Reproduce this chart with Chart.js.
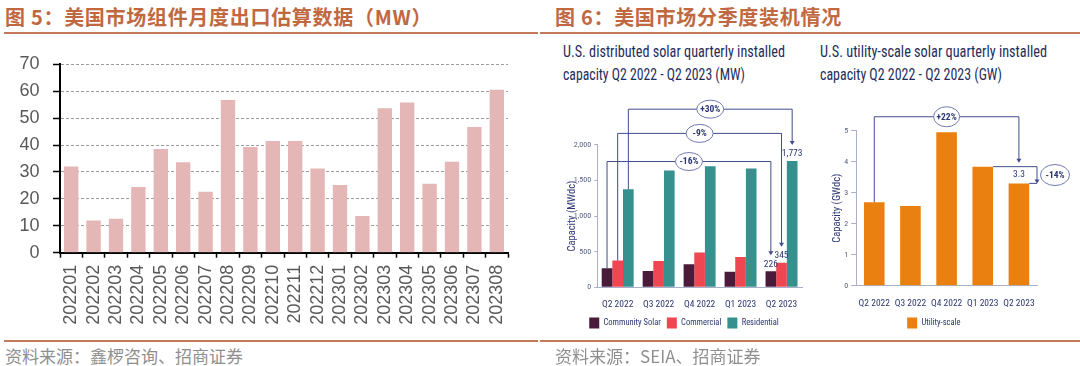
<!DOCTYPE html>
<html>
<head>
<meta charset="utf-8">
<script src="https://cdn.jsdelivr.net/npm/chart.js@4.4.0/dist/chart.umd.min.js"></script>
<style>
  body { margin: 0; background: #fff; }
  #page { position: relative; width: 1080px; height: 366px; overflow: hidden; font-family: "Noto Sans CJK SC", sans-serif; }
  .title { position: absolute; top: 6px; font-size: 20px; line-height: 22px; color: #c0683f; letter-spacing: 0.7px; font-weight: bold; white-space: nowrap; }
  .rule { position: absolute; height: 2px; background: #c47a58; }
  .source { position: absolute; top: 345px; font-size: 17px; line-height: 22px; color: #8f8f8f; white-space: nowrap; }
  .sub { position: absolute; top: 40px; font-family: "Roboto Condensed", "DejaVu Sans Condensed", sans-serif; font-size: 16px; line-height: 23px; color: #1f2d5c; white-space: nowrap; }
  .sub span { display: inline-block; transform-origin: 0 50%; }
  canvas { position: absolute; }
</style>
</head>
<body>
<div id="page">
  <div class="title" style="left:5px">图 5：美国市场组件月度出口估算数据（MW）</div>
  <div class="title" style="left:555px">图 6：美国市场分季度装机情况</div>
  <div class="rule" style="left:4px;width:534px;top:32px"></div>
  <div class="rule" style="left:540px;width:540px;top:32px"></div>

  <div class="sub" style="left:563px"><span data-w="222">U.S. distributed solar quarterly installed</span><br><span data-w="182">capacity Q2 2022 - Q2 2023 (MW)</span></div>
  <div class="sub" style="left:820px"><span data-w="227">U.S. utility-scale solar quarterly installed</span><br><span data-w="182">capacity Q2 2022 - Q2 2023 (GW)</span></div>

  <canvas id="exportChart" width="540" height="295" style="left:0;top:40px"></canvas>
  <canvas id="distChart" width="275" height="255" style="left:545px;top:95px"></canvas>
  <canvas id="utilChart" width="260" height="255" style="left:820px;top:95px"></canvas>

  <div class="rule" style="left:4px;width:534px;top:340px"></div>
  <div class="rule" style="left:540px;width:540px;top:340px"></div>
  <div class="source" style="left:5px">资料来源：鑫椤咨询、招商证券</div>
  <div class="source" style="left:555px">资料来源：SEIA、招商证券</div>
</div>

<script>
// 图5 monthly module exports (MW)
const months = ["202201", "202202", "202203", "202204", "202205", "202206", "202207", "202208", "202209", "202210",
  "202211", "202212", "202301", "202302", "202303", "202304", "202305", "202306", "202307", "202308"];
const exportMW = [32, 12, 12.6, 24.4, 38.5, 33.6, 22.6, 56.7, 39.3, 41.5,
  41.5, 31.3, 25.2, 13.6, 53.7, 55.8, 25.6, 33.8, 46.7, 60.5];

// 图6 quarterly installs
const quarters = ["Q2 2022", "Q3 2022", "Q4 2022", "Q1 2023", "Q2 2023"];
const communitySolar = [268, 230, 324, 220, 226];
const commercial = [375, 370, 487, 427, 345];
const residential = [1375, 1640, 1699, 1666, 1773];
const utilityGW = [2.69, 2.57, 4.95, 3.84, 3.3];

// change badges (outer bracket first)
const distChangeLabels = ["+30%", "-9%", "-16%"];
const utilChangeLabels = ["+22%", "-14%"];

const COND = '"Roboto Condensed", "DejaVu Sans Condensed", sans-serif';
const NAVY = "#2b3672";
const AXIS_BLUE = "#aab0cc";
const NOTE_LINE = "#404c8c";

// squeeze the subtitle lines to the width of the source's narrow face
document.querySelectorAll(".sub span").forEach(el => {
  const w = el.getBoundingClientRect().width;
  el.style.transform = "scaleX(" + (Number(el.dataset.w) / w) + ")";
});

Chart.defaults.animation = false;
Chart.defaults.responsive = false;
Chart.defaults.plugins.tooltip.enabled = false;

function arrowDown(ctx, x, y) {
  ctx.beginPath();
  ctx.moveTo(x - 2.5, y - 4);
  ctx.lineTo(x + 2.5, y - 4);
  ctx.lineTo(x, y);
  ctx.closePath();
  ctx.fillStyle = NOTE_LINE;
  ctx.fill();
}

function badge(ctx, x, y, text, rx, ry) {
  ctx.beginPath();
  ctx.ellipse(x, y, rx, ry, 0, 0, Math.PI * 2);
  ctx.fillStyle = "#fff";
  ctx.fill();
  ctx.lineWidth = 1;
  ctx.strokeStyle = "#6f7ab0";
  ctx.stroke();
  ctx.fillStyle = NAVY;
  ctx.font = "bold 9.5px " + COND;
  ctx.textAlign = "center";
  ctx.textBaseline = "middle";
  ctx.fillText(text, x, y + 0.5);
}

// ---------- left: monthly exports ----------
new Chart(document.getElementById("exportChart"), {
  type: "bar",
  data: {
    labels: months,
    datasets: [{
      data: exportMW,
      backgroundColor: "#e4b6b6",
      barPercentage: 0.64,
      categoryPercentage: 1
    }]
  },
  options: {
    layout: { padding: { left: 0, right: 32, top: 16.7, bottom: 0 } },
    plugins: { legend: { display: false } },
    scales: {
      x: {
        grid: { offset: true, drawOnChartArea: false, tickLength: 5, tickColor: "#000", tickWidth: 1.5 },
        border: { color: "#000", width: 2 },
        ticks: {
          autoSkip: false, maxRotation: 90, minRotation: 90, padding: 7,
          color: "#595959", font: { family: "Liberation Sans, Arial, sans-serif", size: 18 }
        },
        afterFit: s => { s.height = 82.3; }
      },
      y: {
        min: 0, max: 70,
        grid: { color: "#9c9c9c", tickLength: 7, tickColor: "#000", tickWidth: 1.5, tickBorderDash: [] },
        border: { color: "#000", width: 2, dash: [3, 2] },
        ticks: {
          stepSize: 10, padding: 13.5,
          color: "#595959", font: { family: "Liberation Sans, Arial, sans-serif", size: 18 }
        },
        afterFit: s => { s.width = 60; }
      }
    }
  }
});

// ---------- right 1: distributed solar ----------
const distNotes = {
  id: "distNotes",
  afterDatasetsDraw(chart) {
    const ctx = chart.ctx;
    const y = chart.scales.y;
    const last = quarters.length - 1;
    const order = [2, 1, 0];              // residential, commercial, community
    const levels = [2500, 2160, 1765];    // bracket heights in MW
    const badges = [];
    ctx.save();
    order.forEach((ds, i) => {
      const bars = chart.getDatasetMeta(ds).data;
      const a = bars[0], b = bars[last];
      const ly = y.getPixelForValue(levels[i]);
      ctx.strokeStyle = NOTE_LINE;
      ctx.lineWidth = 1;
      ctx.beginPath();
      ctx.moveTo(a.x, a.y);
      ctx.lineTo(a.x, ly);
      ctx.lineTo(b.x, ly);
      ctx.lineTo(b.x, b.y - 19);
      ctx.stroke();
      arrowDown(ctx, b.x, b.y - 16);
      ctx.fillStyle = NAVY;
      ctx.font = "9.5px " + COND;
      ctx.textAlign = "center";
      ctx.textBaseline = "middle";
      ctx.fillText(chart.data.datasets[ds].data[last].toLocaleString("en-US"), b.x, b.y - 7);
      badges.push([(a.x + b.x) / 2, ly, distChangeLabels[i]]);
    });
    badges.forEach(p => badge(ctx, p[0], p[1], p[2], 13.5, 9));
    ctx.restore();
  }
};

new Chart(document.getElementById("distChart"), {
  type: "bar",
  data: {
    labels: quarters,
    datasets: [
      { label: "Community Solar", data: communitySolar, backgroundColor: "#4a1a3a" },
      { label: "Commercial", data: commercial, backgroundColor: "#ee4752" },
      { label: "Residential", data: residential, backgroundColor: "#35908e" }
    ]
  },
  options: {
    datasets: { bar: { categoryPercentage: 0.78, barPercentage: 1 } },
    layout: { padding: { left: 21, right: 18, top: 49.8, bottom: 11.5 } },
    plugins: {
      legend: {
        position: "bottom",
        labels: { boxWidth: 10, boxHeight: 11, padding: 6, color: NAVY, font: { family: COND, size: 8.5 } }
      }
    },
    scales: {
      x: {
        grid: { display: false },
        border: { color: AXIS_BLUE, width: 1 },
        ticks: { autoSkip: false, maxRotation: 0, padding: 4, color: NAVY, font: { family: COND, size: 9.5 } },
        afterFit: s => { s.height = 24.2; }
      },
      y: {
        min: 0, max: 2000,
        grid: { drawOnChartArea: false, tickLength: 3, tickColor: AXIS_BLUE },
        border: { color: AXIS_BLUE, width: 1 },
        ticks: { stepSize: 500, padding: 3, color: "#555d80", font: { family: COND, size: 8 } },
        title: { display: true, text: "Capacity (MWdc)", padding: 0, color: NAVY, font: { family: COND, size: 10.5 } },
        afterFit: s => { s.width = 31.2; }
      }
    }
  },
  plugins: [distNotes]
});

// ---------- right 2: utility-scale ----------
const utilNotes = {
  id: "utilNotes",
  afterDatasetsDraw(chart) {
    const ctx = chart.ctx;
    const y = chart.scales.y;
    const area = chart.chartArea;
    const bars = chart.getDatasetMeta(0).data;
    const first = bars[0], prev = bars[bars.length - 2], last = bars[bars.length - 1];
    const ly = y.getPixelForValue(5.45);
    const xr = area.right;
    const midY = (prev.y + last.y) / 2;
    ctx.save();
    ctx.strokeStyle = NOTE_LINE;
    ctx.lineWidth = 1;
    ctx.beginPath();
    ctx.moveTo(first.x, first.y);
    ctx.lineTo(first.x, ly);
    ctx.lineTo(last.x, ly);
    ctx.lineTo(last.x, prev.y - 7);
    ctx.stroke();
    arrowDown(ctx, last.x, prev.y - 4);

    ctx.beginPath();
    ctx.moveTo(prev.x + prev.width / 2, prev.y);
    ctx.lineTo(xr, prev.y);
    ctx.lineTo(xr, last.y - 3);
    ctx.moveTo(last.x + last.width / 2, last.y);
    ctx.lineTo(xr, last.y);
    ctx.stroke();
    arrowDown(ctx, xr, last.y);

    ctx.fillStyle = NAVY;
    ctx.font = "9.5px " + COND;
    ctx.textAlign = "center";
    ctx.textBaseline = "middle";
    ctx.fillText(utilityGW[utilityGW.length - 1].toFixed(1), last.x, midY);

    badge(ctx, (first.x + last.x) / 2, ly, utilChangeLabels[0], 13, 10);
    badge(ctx, xr + 18, midY, utilChangeLabels[1], 14.5, 10.5);
    ctx.restore();
  }
};

new Chart(document.getElementById("utilChart"), {
  type: "bar",
  data: {
    labels: quarters,
    datasets: [{ label: "Utility-scale", data: utilityGW, backgroundColor: "#ea8010", barPercentage: 0.57, categoryPercentage: 1 }]
  },
  options: {
    layout: { padding: { left: 10.7, right: 43, top: 35.7, bottom: 11.5 } },
    plugins: {
      legend: {
        position: "bottom",
        labels: { boxWidth: 10, boxHeight: 11, padding: 6, color: NAVY, font: { family: COND, size: 8.5 } }
      }
    },
    scales: {
      x: {
        grid: { display: false },
        border: { color: AXIS_BLUE, width: 1 },
        ticks: { autoSkip: false, maxRotation: 0, padding: 4, color: NAVY, font: { family: COND, size: 9.5 } },
        afterFit: s => { s.height = 25.8; }
      },
      y: {
        min: 0, max: 5,
        grid: { drawOnChartArea: false, tickLength: 5, tickColor: AXIS_BLUE },
        border: { color: AXIS_BLUE, width: 1 },
        ticks: { stepSize: 1, padding: 3, color: "#555d80", font: { family: COND, size: 8 } },
        title: { display: true, text: "Capacity (GWdc)", padding: 0, color: NAVY, font: { family: COND, size: 10.5 } },
        afterFit: s => { s.width = 25.5; }
      }
    }
  },
  plugins: [utilNotes]
});
</script>
</body>
</html>
